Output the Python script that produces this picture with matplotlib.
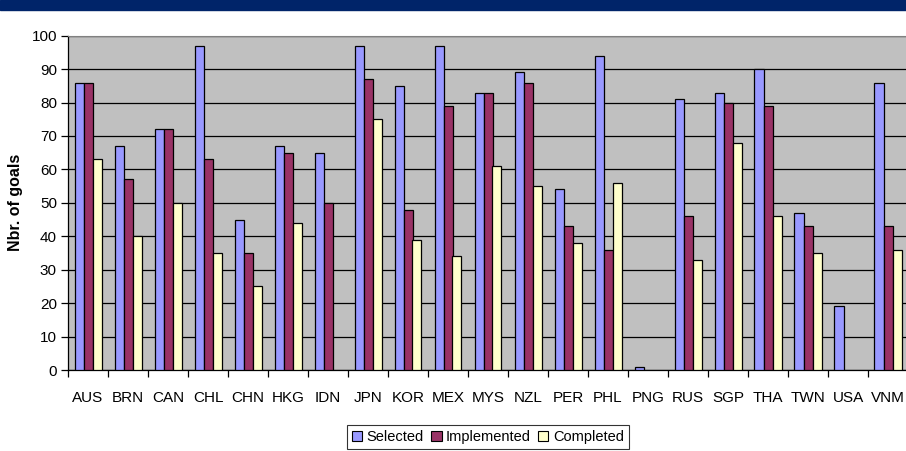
import matplotlib
matplotlib.use("Agg")
import matplotlib.pyplot as plt
import matplotlib.patches as mpatches
import numpy as np

plt.rcParams['font.family'] = ['Liberation Sans', 'DejaVu Sans']

economies = ["AUS", "BRN", "CAN", "CHL", "CHN", "HKG", "IDN", "JPN", "KOR", "MEX", "MYS",
             "NZL", "PER", "PHL", "PNG", "RUS", "SGP", "THA", "TWN", "USA", "VNM"]
selected = [86, 67, 72, 97, 45, 67, 65, 97, 85, 97, 83, 89, 54, 94, 1, 81, 83, 90, 47, 19, 86]
implemented = [86, 57, 72, 63, 35, 65, 50, 87, 48, 79, 83, 86, 43, 36, 0, 46, 80, 79, 43, 0, 43]
completed = [63, 40, 50, 35, 25, 44, 0, 75, 39, 34, 61, 55, 38, 56, 0, 33, 68, 46, 35, 0, 36]

series = [("Selected", selected, "#9999FF"),
          ("Implemented", implemented, "#993366"),
          ("Completed", completed, "#FFFFCC")]

W, H = 906, 451
fig = plt.figure(figsize=(W / 100, H / 100), dpi=100)

# dark band across the top
fig.patches.append(mpatches.Rectangle((0, 1 - 10 / H), 1, 10 / H, transform=fig.transFigure,
                                      color="#002469", zorder=0))

ax = fig.add_axes([68 / W, (H - 370) / H, 840 / W, (370 - 35.7) / H])
ax.set_facecolor("#C0C0C0")

x = np.arange(len(economies))
bw = 0.225
for i, (name, vals, col) in enumerate(series):
    vals = np.array(vals, dtype=float)
    keep = vals > 0  # zero values leave no visible bar
    ax.bar(x[keep] + (i - 1) * bw, vals[keep], width=bw, color=col, edgecolor="black",
           linewidth=0.9, zorder=3, label=name)

ax.set_xlim(-0.5, len(economies) - 0.5)
ax.set_ylim(0, 100)
ax.set_yticks(np.arange(0, 101, 10))
ax.yaxis.grid(True, color="black", linewidth=0.9)
ax.set_axisbelow(True)

ax.set_xticks(x)
ax.set_xticklabels(economies)
ax.set_xticks(np.arange(-0.5, len(economies), 1), minor=True)
ax.tick_params(axis="x", which="major", length=0, pad=15, labelsize=11)
ax.tick_params(axis="x", which="minor", length=5, width=0.9, direction="out")
ax.tick_params(axis="y", length=5, width=0.9, direction="out", labelsize=11, pad=3)

ax.spines["right"].set_visible(False)
ax.spines["top"].set_color("#808080")
ax.spines["left"].set_linewidth(0.9)
ax.spines["bottom"].set_linewidth(0.9)

ax.set_ylabel("Nbr. of goals", fontsize=11.5, fontweight="bold")
ax.yaxis.set_label_coords(-0.053, 0.5)

handles = [mpatches.Patch(facecolor=c, edgecolor="black", linewidth=0.8) for _, _, c in series]
leg = fig.legend(handles, [n for n, _, _ in series], loc="center",
                 bbox_to_anchor=(488 / W, 1 - 437 / H), ncol=3, fontsize=10.5,
                 frameon=True, fancybox=False, edgecolor="black", handlelength=0.7,
                 handleheight=0.7, handletextpad=0.3, columnspacing=0.5,
                 borderpad=0.35, borderaxespad=0)
leg.get_frame().set_linewidth(0.8)

fig.savefig("out.png", dpi=100)
